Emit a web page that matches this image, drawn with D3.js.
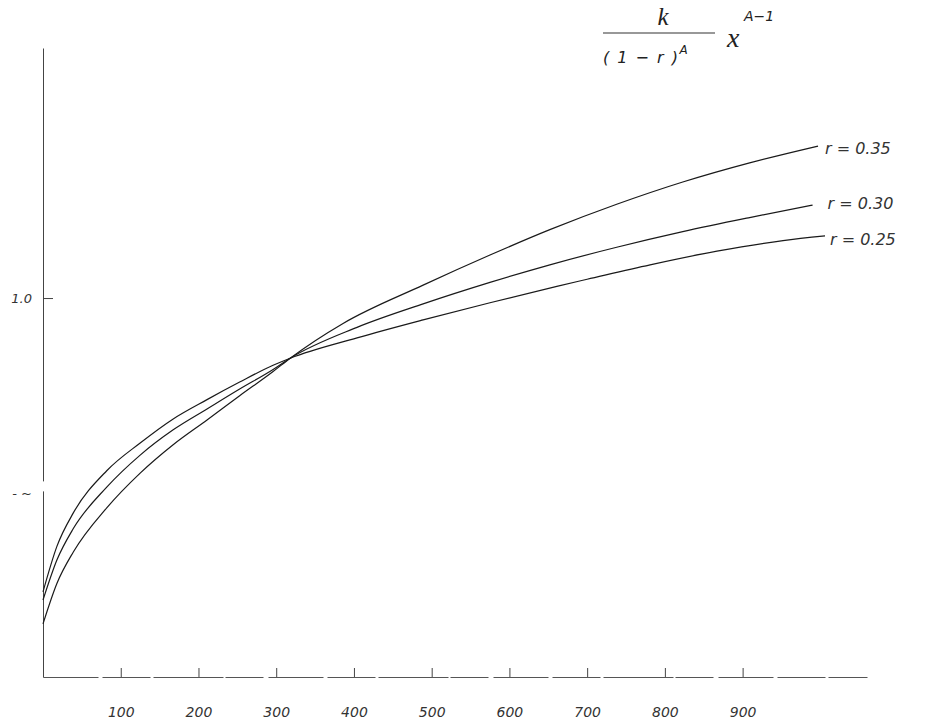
<!DOCTYPE html>
<html>
<head>
<meta charset="utf-8">
<script src="https://cdn.jsdelivr.net/npm/d3@7/dist/d3.min.js"></script>
<style>
  html, body { margin: 0; padding: 0; background: #fff; }
  svg { display: block; }
  .hand { font-family: "DejaVu Sans", sans-serif; font-style: italic; fill: #333; }
</style>
</head>
<body>
<svg id="chart" width="926" height="728"></svg>
<script>
// ---- data ----
const xTicks = [100, 200, 300, 400, 500, 600, 700, 800, 900];
const xTickLabels = ["100", "200", "300", "400", "500", "600", "700", "800", "900"];
const yTicks = [0.5, 1.0];
const yTickLabels = ["- ~", "1.0"];

const seriesNames = ["r = 0.35", "r = 0.30", "r = 0.25"];

const r035_x = [0, 18, 39, 82, 125, 167, 211, 253, 296, 318, 386, 489, 575, 652, 738, 823, 909, 997];
const r035_y = [0.166, 0.270, 0.350, 0.463, 0.552, 0.624, 0.688, 0.750, 0.812, 0.846, 0.935, 1.033, 1.110, 1.175, 1.240, 1.297, 1.346, 1.389];

const r030_x = [0, 18, 39, 82, 125, 167, 211, 253, 296, 318, 404, 489, 575, 652, 738, 823, 909, 990];
const r030_y = [0.227, 0.330, 0.410, 0.516, 0.598, 0.662, 0.716, 0.767, 0.817, 0.846, 0.925, 0.985, 1.040, 1.085, 1.130, 1.170, 1.206, 1.238];

const r025_x = [0, 18, 39, 82, 125, 167, 211, 253, 296, 318, 404, 489, 575, 661, 700, 781, 867, 952, 1006];
const r025_y = [0.248, 0.365, 0.450, 0.558, 0.629, 0.690, 0.740, 0.785, 0.828, 0.846, 0.898, 0.944, 0.988, 1.030, 1.048, 1.085, 1.120, 1.147, 1.159];

const xDomain = [0, 1060];
const yDomain = [0.03, 1.64];

// ---- drawing ----
const svg = d3.select("#chart");
const x = d3.scaleLinear().domain(xDomain).range([43, 867]);
const y = d3.scaleLinear().domain(yDomain).range([677, 48]);

const series = [
  { name: seriesNames[0], xs: r035_x, ys: r035_y, dx: 7, dy: 3 },
  { name: seriesNames[1], xs: r030_x, ys: r030_y, dx: 15, dy: -1 },
  { name: seriesNames[2], xs: r025_x, ys: r025_y, dx: 5, dy: 5 }
];

// x axis
const gx = svg.append("g")
  .attr("transform", `translate(0,${y(yDomain[0])})`)
  .call(d3.axisBottom(x)
    .tickValues(xTicks)
    .tickFormat((d, i) => xTickLabels[i])
    .tickSizeInner(-9)
    .tickSizeOuter(0)
    .tickPadding(30));
gx.select(".domain").attr("stroke", "#555").attr("stroke-width", 1)
  .attr("stroke-dasharray", "55 4 48 3 70 2 38 5");
gx.selectAll(".tick line").attr("stroke", "#444");
gx.selectAll(".tick text").attr("class", "hand").attr("font-size", 14).attr("fill", "#333");

// y axis
const gy = svg.append("g")
  .attr("transform", `translate(${x(0)},0)`)
  .call(d3.axisLeft(y)
    .tickValues(yTicks)
    .tickFormat((d, i) => yTickLabels[i])
    .tickSizeInner(-10)
    .tickSizeOuter(0)
    .tickPadding(11));
gy.select(".domain").attr("stroke", "#444").attr("stroke-width", 1);
gy.selectAll(".tick line").attr("stroke", "#444").attr("stroke-opacity", (d) => d === 1.0 ? 1 : 0);
gy.selectAll(".tick text").attr("class", "hand").attr("font-size", 13).attr("fill", "#444");
// small break in the hand-drawn y axis near the 0.5 mark
svg.append("rect")
  .attr("x", x(0) - 2).attr("y", y(0.5) - 12)
  .attr("width", 4).attr("height", 10)
  .attr("fill", "#fff");

// curves
const line = d3.line()
  .x(d => x(d[0]))
  .y(d => y(d[1]))
  .curve(d3.curveMonotoneX);

series.forEach(s => {
  const pts = s.xs.map((v, i) => [v, s.ys[i]]);
  svg.append("path")
    .datum(pts)
    .attr("d", line)
    .attr("fill", "none")
    .attr("stroke", "#1a1a1a")
    .attr("stroke-width", 1.2);
  const last = pts[pts.length - 1];
  svg.append("text")
    .attr("class", "hand")
    .attr("x", x(last[0]) + s.dx)
    .attr("y", y(last[1]) + s.dy)
    .attr("dominant-baseline", "middle")
    .attr("font-size", 16)
    .text(s.name);
});

// formula title
const f = svg.append("g").attr("class", "formula");
f.append("text").attr("x", 663).attr("y", 25).attr("text-anchor", "middle")
  .attr("font-family", "Liberation Serif, serif").attr("font-style", "italic")
  .attr("font-size", 25).attr("fill", "#222").text("k");
f.append("line").attr("x1", 603).attr("x2", 715).attr("y1", 33).attr("y2", 33)
  .attr("stroke", "#333").attr("stroke-width", 1.2);
const den = f.append("text").attr("x", 603).attr("y", 63)
  .attr("font-family", "DejaVu Sans, sans-serif").attr("font-style", "italic")
  .attr("font-size", 16).attr("letter-spacing", 1.5).attr("fill", "#222");
den.append("tspan").text("( 1 − r )");
den.append("tspan").attr("dy", -9).attr("font-size", 12).attr("letter-spacing", 0).text("A");
const num = f.append("text").attr("x", 727).attr("y", 47)
  .attr("font-family", "Liberation Serif, serif").attr("font-style", "italic")
  .attr("font-size", 28).attr("fill", "#222");
num.append("tspan").text("x");
num.append("tspan").attr("dy", -26).attr("font-size", 14)
  .attr("font-family", "DejaVu Sans, sans-serif").text(" A−1");
</script>
</body>
</html>
